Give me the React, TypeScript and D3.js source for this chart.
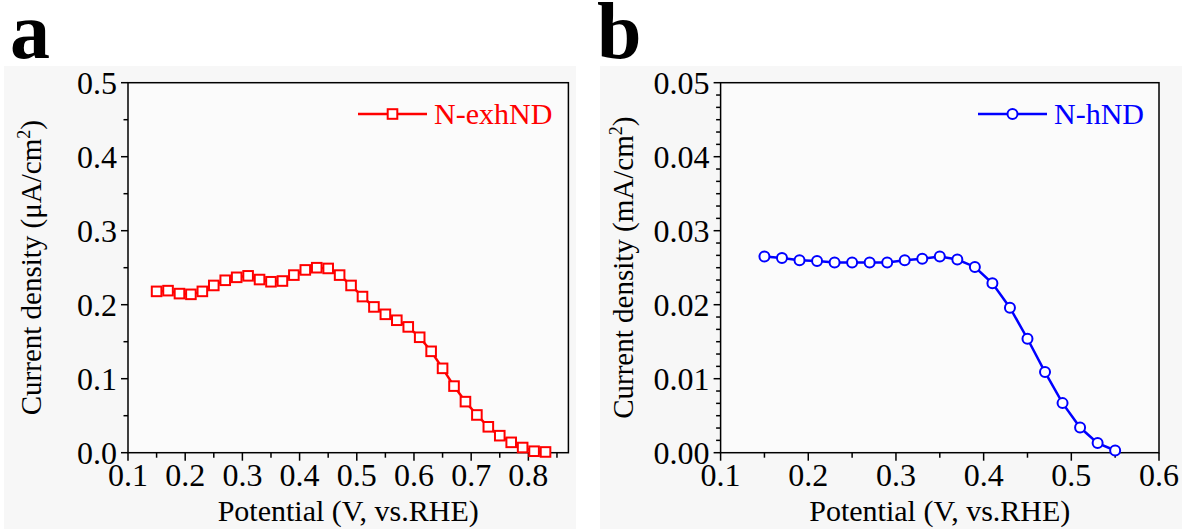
import React from 'react';
import * as d3 from 'd3';

// panel a: N-exhND (µA/cm²)
const potentialA = [0.15, 0.17, 0.19, 0.21, 0.23, 0.25, 0.27, 0.29, 0.31, 0.33, 0.35, 0.37, 0.39, 0.41, 0.43, 0.45, 0.47, 0.49, 0.51, 0.53, 0.55, 0.57, 0.59, 0.61, 0.63, 0.65, 0.67, 0.69, 0.71, 0.73, 0.75, 0.77, 0.79, 0.81, 0.83];
const currentA = [0.218, 0.219, 0.215, 0.214, 0.218, 0.226, 0.233, 0.237, 0.239, 0.234, 0.231, 0.232, 0.240, 0.247, 0.250, 0.249, 0.240, 0.226, 0.211, 0.197, 0.187, 0.179, 0.170, 0.156, 0.137, 0.114, 0.090, 0.069, 0.051, 0.035, 0.023, 0.014, 0.007, 0.002, 0.001];

// panel b: N-hND (mA/cm²)
const potentialB = [0.15, 0.17, 0.19, 0.21, 0.23, 0.25, 0.27, 0.29, 0.31, 0.33, 0.35, 0.37, 0.39, 0.41, 0.43, 0.45, 0.47, 0.49, 0.51, 0.53, 0.55];
const currentB = [0.0265, 0.0263, 0.0260, 0.0259, 0.0257, 0.0257, 0.0257, 0.0257, 0.0260, 0.0262, 0.0265, 0.0261, 0.0251, 0.0229, 0.0196, 0.0154, 0.0109, 0.0067, 0.0034, 0.0013, 0.0003];

const xTicksA = [0.1, 0.2, 0.3, 0.4, 0.5, 0.6, 0.7, 0.8];
const yTicksA = [0.0, 0.1, 0.2, 0.3, 0.4, 0.5];
const xTicksB = [0.1, 0.2, 0.3, 0.4, 0.5, 0.6];
const yTicksB = [0.0, 0.01, 0.02, 0.03, 0.04, 0.05];

const FONT = '"Liberation Serif", "Times New Roman", serif';

type PanelProps = {
  letter: string;
  letterX: number;
  bgX: number;
  bgW: number;
  left: number;
  right: number;
  xDomain: [number, number];
  yDomain: [number, number];
  xTicks: number[];
  yTicks: number[];
  xMinorStep: number;
  yMinorDiv: number;
  xFmt: (v: number) => string;
  yFmt: (v: number) => string;
  xs: number[];
  ys: number[];
  color: string;
  marker: 'square' | 'circle';
  unit: string;
  titleX: number;
  legendX: number;
  label: string;
};

const TOP = 82.7;
const BOTTOM = 452.7;

const Panel = (p: PanelProps) => {
  const x = d3.scaleLinear().domain(p.xDomain).range([p.left, p.right]);
  const y = d3.scaleLinear().domain(p.yDomain).range([BOTTOM, TOP]);
  const pts = p.xs.map((v, i) => [v, p.ys[i]] as [number, number]);
  const line = d3.line<[number, number]>().x(d => x(d[0])).y(d => y(d[1]));

  // minor ticks
  const xMinor: number[] = [];
  for (let v = p.xDomain[0] + p.xMinorStep; v < p.xDomain[1] - 1e-9; v += p.xMinorStep * 2) xMinor.push(v);
  const yMinor: number[] = [];
  const yStep = p.yTicks[1] - p.yTicks[0];
  p.yTicks.slice(0, -1).forEach(t => {
    for (let k = 1; k < p.yMinorDiv; k++) yMinor.push(t + (yStep * k) / p.yMinorDiv);
  });

  const drawMarker = (cx: number, cy: number, key: any) =>
    p.marker === 'square'
      ? <rect key={key} x={cx - 4.8} y={cy - 4.8} width={9.6} height={9.6} fill="#fff" stroke={p.color} strokeWidth={2} />
      : <circle key={key} cx={cx} cy={cy} r={5} fill="#fff" stroke={p.color} strokeWidth={2} />;

  const midY = (TOP + BOTTOM) / 2;
  const legendY = 114;

  return (
    <g fontFamily={FONT}>
      <rect x={p.bgX} y={66} width={p.bgW} height={463} fill="#f7f7f7" />
      <text x={p.letterX} y={58} fontSize={80} fontWeight="bold" fill="#000">{p.letter}</text>
      <rect x={p.left} y={TOP} width={p.right - p.left} height={BOTTOM - TOP} fill="#fbfbfb" stroke="#000" strokeWidth={1.5} />

      {/* x ticks */}
      {p.xTicks.map(t => (
        <g key={'xt' + t}>
          <line x1={x(t)} x2={x(t)} y1={BOTTOM} y2={BOTTOM + 8} stroke="#000" strokeWidth={1.5} />
          <text x={x(t)} y={486} fontSize={32} textAnchor="middle">{p.xFmt(t)}</text>
        </g>
      ))}
      {xMinor.map(t => (
        <line key={'xm' + t} x1={x(t)} x2={x(t)} y1={BOTTOM} y2={BOTTOM + 5} stroke="#000" strokeWidth={1.5} />
      ))}

      {/* y ticks */}
      {p.yTicks.map(t => (
        <g key={'yt' + t}>
          <line x1={p.left - 7} x2={p.left} y1={y(t)} y2={y(t)} stroke="#000" strokeWidth={1.5} />
          <text x={p.left - 11} y={y(t)} dy="0.35em" fontSize={32} textAnchor="end">{p.yFmt(t)}</text>
        </g>
      ))}
      {yMinor.map(t => (
        <line key={'ym' + t} x1={p.left - 4.5} x2={p.left} y1={y(t)} y2={y(t)} stroke="#000" strokeWidth={1.5} />
      ))}

      {/* axis titles */}
      <text x={(p.left + p.right) / 2} y={521} fontSize={30} textAnchor="middle">Potential (V, vs.RHE)</text>
      <text transform={`translate(${p.titleX},${midY}) rotate(-90)`} fontSize={29} textAnchor="middle">
        {`Current density (${p.unit}/cm`}
        <tspan fontSize={18} dy={-11}>2</tspan>
        <tspan dy={11}>)</tspan>
      </text>

      {/* data */}
      <path d={line(pts) || ''} fill="none" stroke={p.color} strokeWidth={2.5} />
      {pts.map((d, i) => drawMarker(x(d[0]), y(d[1]), i))}

      {/* legend */}
      <line x1={p.legendX} x2={p.legendX + 69} y1={legendY} y2={legendY} stroke={p.color} strokeWidth={2.5} />
      {drawMarker(p.legendX + 34.5, legendY, 'lg')}
      <text x={p.legendX + 76} y={legendY + 10} fontSize={30} fill={p.color}>{p.label}</text>
    </g>
  );
};

export default function App() {
  return (
    <svg width={1182} height={529} style={{ position: 'absolute', left: 0, top: 0, background: '#fff' }}>
      <Panel
        letter="a" letterX={10} bgX={4} bgW={572}
        left={128} right={568.4} xDomain={[0.1, 0.87]} yDomain={[0, 0.5]}
        xTicks={xTicksA} yTicks={yTicksA} xMinorStep={0.05} yMinorDiv={2}
        xFmt={d3.format('.1f')} yFmt={d3.format('.1f')}
        xs={potentialA} ys={currentA} color="#ff0000" marker="square"
        unit="μA" titleX={41} legendX={358} label="N-exhND"
      />
      <Panel
        letter="b" letterX={597} bgX={600} bgW={582}
        left={720.6} right={1159} xDomain={[0.1, 0.6]} yDomain={[0, 0.05]}
        xTicks={xTicksB} yTicks={yTicksB} xMinorStep={0.05} yMinorDiv={6}
        xFmt={d3.format('.1f')} yFmt={d3.format('.2f')}
        xs={potentialB} ys={currentB} color="#0000ff" marker="circle"
        unit="mA" titleX={633} legendX={978} label="N-hND"
      />
    </svg>
  );
}
